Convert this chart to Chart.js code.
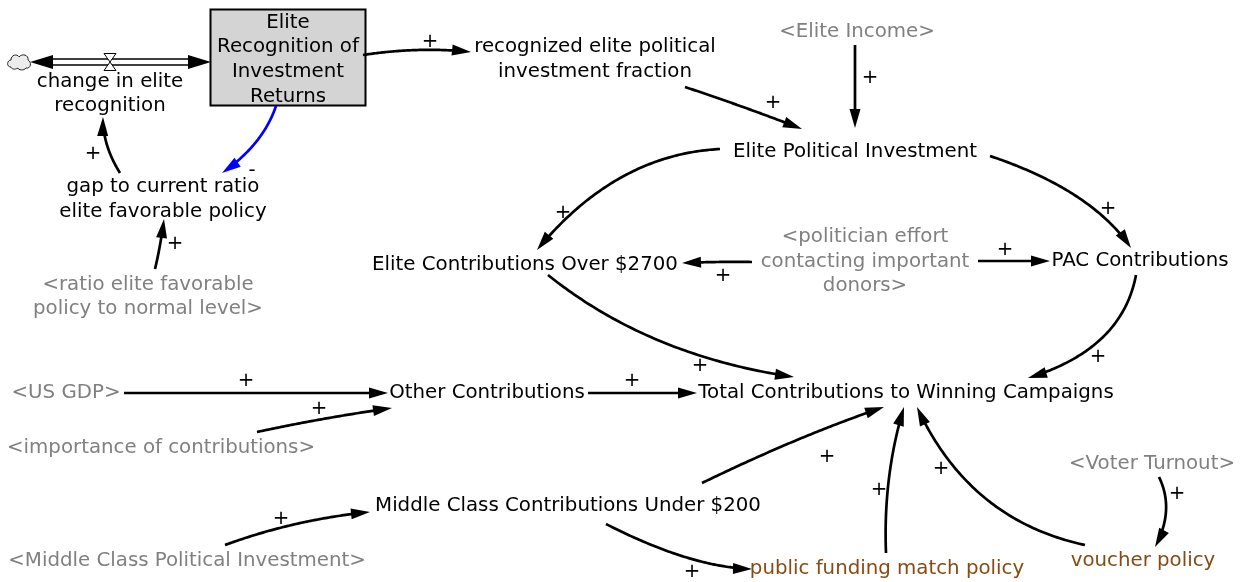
<!DOCTYPE html>
<html><head><meta charset="utf-8">
<script src="https://cdn.jsdelivr.net/npm/chart.js@4.4.1/dist/chart.umd.min.js"></script>
<style>html,body{margin:0;padding:0;background:#fff}canvas{display:block}</style>
</head><body>
<canvas id="c" width="1245" height="582"></canvas>
<script>
// ---- Nodes (diagram coordinates) ----
const nodeLabels = [
  "Elite\nRecognition of\nInvestment\nReturns",
  "change in elite\nrecognition",
  "gap to current ratio\nelite favorable policy",
  "<ratio elite favorable\npolicy to normal level>",
  "recognized elite political\ninvestment fraction",
  "<Elite Income>",
  "Elite Political Investment",
  "Elite Contributions Over $2700",
  "<politician effort\ncontacting important\ndonors>",
  "PAC Contributions",
  "<US GDP>",
  "Other Contributions",
  "Total Contributions to Winning Campaigns",
  "<importance of contributions>",
  "Middle Class Contributions Under $200",
  "<Middle Class Political Investment>",
  "public funding match policy",
  "voucher policy",
  "<Voter Turnout>"
];
const nodeX = [288, 110, 163, 148, 595, 857, 855, 525, 865, 1140, 66, 487, 906, 161, 568, 187, 887, 1143, 1152];
const nodeY = [59.5, 94, 199.5, 297, 59.5, 32, 152, 265, 261.5, 261, 393, 393, 393, 448, 506, 561, 569, 561, 464];
const nodeRole = ["stock","aux","aux","shadow","aux","shadow","aux","aux","shadow","aux","shadow","aux","aux","shadow","aux","shadow","policy","policy","shadow"];

// ---- Causal links: start, a point the curve passes through, end ----
const linkStartX = [363, 685, 855, 720, 990, 752, 978, 548, 1136, 124, 257, 588, 702, 225, 606, 886, 1085, 1159, 276, 120, 155];
const linkStartY = [55, 87, 45, 149, 156, 262, 261, 275, 275, 393, 432, 393, 483, 545, 524, 553, 545, 477, 106, 173, 269];
const linkViaX   = [418, 743, 855, 622, 1076, 717, 1014, 660, 1102, 256, 323, 642, 797, 296, 685, 889, 985, 1166, 256, 107, 160];
const linkViaY   = [50, 107, 86, 177, 196, 262, 261, 341, 338, 393, 419, 393, 440, 524, 557, 478, 498, 511, 142, 145, 245];
const linkEndX   = [471, 802, 855, 537, 1131, 682, 1050, 794, 1028, 388, 392, 697, 884, 370, 752, 904, 917, 1155, 222, 103, 164];
const linkEndY   = [52, 129, 128, 250, 248, 263, 261, 377, 378, 393, 408, 393, 407, 512, 569, 407, 407, 547, 173, 117, 219];
const linkSign   = ["+","+","+","+","+","+","+","+","+","+","+","+","+","+","+","+","+","+","-","+","+"];
const signX      = [430, 773, 870, 563, 1108, 723, 1005, 700, 1098, 246, 319, 632, 827, 281, 692, 879, 941, 1177, 252, 93, 175];
const signY      = [42, 103, 78, 213, 209, 276, 250, 366, 357, 381, 409, 381, 457, 519, 572, 490, 469, 494, 171, 154, 244];
const linkColor  = ["k","k","k","k","k","k","k","k","k","k","k","k","k","k","k","k","k","k","b","k","k"];

// ---- Flow (stock inflow/outflow pipe) ----
const flowFromX = [30], flowToX = [211], flowY = [62], valveX = [110], cloudX = [19];

const FONT = '"DejaVu Sans", Verdana, sans-serif';
const FS = 19.8;
const LH = 24.6;
const roleColor = {stock:'#000', aux:'#000', shadow:'#808080', policy:'#874a12'};

const diagram = {
  id: 'diagram',
  afterDatasetsDraw(chart) {
    const ctx = chart.ctx, xs = chart.scales.x, ys = chart.scales.y;
    const px = v => xs.getPixelForValue(v), py = v => ys.getPixelForValue(v);
    ctx.save();

    // stock box
    const bx0 = px(210.5), bx1 = px(365.5), by0 = py(9.5), by1 = py(105.5);
    ctx.fillStyle = '#d4d4d4';
    ctx.fillRect(bx0, by0, bx1 - bx0, by1 - by0);
    ctx.strokeStyle = '#000'; ctx.lineWidth = 2;
    ctx.strokeRect(bx0, by0, bx1 - bx0, by1 - by0);

    // flow pipe
    flowY.forEach((fy, i) => {
      const y = py(fy), xa = px(flowFromX[i]), xb = px(flowToX[i]);
      ctx.strokeStyle = '#000'; ctx.lineWidth = 1.3;
      ctx.beginPath();
      ctx.moveTo(xa + 20, y - 3); ctx.lineTo(xb - 20, y - 3);
      ctx.moveTo(xa + 20, y + 3); ctx.lineTo(xb - 20, y + 3);
      ctx.stroke();
      ctx.fillStyle = '#000';
      ctx.beginPath(); ctx.moveTo(xa, y); ctx.lineTo(xa + 23, y - 7); ctx.lineTo(xa + 23, y + 7); ctx.closePath(); ctx.fill();
      ctx.beginPath(); ctx.moveTo(xb, y); ctx.lineTo(xb - 23, y - 7); ctx.lineTo(xb - 23, y + 7); ctx.closePath(); ctx.fill();
      // valve
      const vx = px(valveX[i]);
      ctx.fillStyle = '#fff'; ctx.strokeStyle = '#000'; ctx.lineWidth = 1;
      ctx.beginPath(); ctx.moveTo(vx - 6, y - 8.5); ctx.lineTo(vx + 6, y - 8.5); ctx.lineTo(vx, y); ctx.closePath(); ctx.fill(); ctx.stroke();
      ctx.beginPath(); ctx.moveTo(vx - 6, y + 8.5); ctx.lineTo(vx + 6, y + 8.5); ctx.lineTo(vx, y); ctx.closePath(); ctx.fill(); ctx.stroke();
      // cloud
      const cx = px(cloudX[i]);
      ctx.fillStyle = '#ececec'; ctx.strokeStyle = '#222'; ctx.lineWidth = 1;
      ctx.beginPath();
      ctx.moveTo(cx - 8, y + 5);
      ctx.bezierCurveTo(cx - 13, y + 5, cx - 12, y - 2, cx - 8, y - 2);
      ctx.bezierCurveTo(cx - 8, y - 8, cx - 1, y - 8, cx, y - 5);
      ctx.bezierCurveTo(cx + 3, y - 9, cx + 10, y - 7, cx + 9, y - 2);
      ctx.bezierCurveTo(cx + 13, y, cx + 12, y + 7, cx + 7, y + 6);
      ctx.bezierCurveTo(cx + 5, y + 9, cx - 1, y + 8, cx - 1, y + 6);
      ctx.bezierCurveTo(cx - 4, y + 8, cx - 8, y + 7, cx - 8, y + 5);
      ctx.closePath(); ctx.fill(); ctx.stroke();
    });

    // causal links
    linkSign.forEach((s, i) => {
      const S = [px(linkStartX[i]), py(linkStartY[i])];
      const V = [px(linkViaX[i]), py(linkViaY[i])];
      const E = [px(linkEndX[i]), py(linkEndY[i])];
      const C = [2 * V[0] - (S[0] + E[0]) / 2, 2 * V[1] - (S[1] + E[1]) / 2];
      const col = linkColor[i] === 'b' ? '#0000ff' : '#000';
      const L = 19, W = 5.5;
      const pts = [];
      for (let k = 0; k <= 80; k++) {
        const t = k / 80, u = 1 - t;
        pts.push([u*u*S[0] + 2*u*t*C[0] + t*t*E[0], u*u*S[1] + 2*u*t*C[1] + t*t*E[1]]);
      }
      ctx.strokeStyle = col; ctx.lineWidth = 2.7; ctx.lineCap = 'butt'; ctx.lineJoin = 'round';
      ctx.beginPath(); ctx.moveTo(pts[0][0], pts[0][1]);
      for (let k = 1; k < pts.length; k++) {
        const d = Math.hypot(pts[k][0] - E[0], pts[k][1] - E[1]);
        if (d < L - 3) break;
        ctx.lineTo(pts[k][0], pts[k][1]);
      }
      ctx.stroke();
      let dx = E[0] - C[0], dy = E[1] - C[1];
      const n = Math.hypot(dx, dy); dx /= n; dy /= n;
      ctx.fillStyle = col;
      ctx.beginPath();
      ctx.moveTo(E[0], E[1]);
      ctx.lineTo(E[0] - dx * L - dy * W, E[1] - dy * L + dx * W);
      ctx.lineTo(E[0] - dx * L + dy * W, E[1] - dy * L - dx * W);
      ctx.closePath(); ctx.fill();
      ctx.fillStyle = '#000';
      ctx.font = FS + 'px ' + FONT; ctx.textAlign = 'center'; ctx.textBaseline = 'middle';
      ctx.fillText(s, px(signX[i]), py(signY[i]));
    });

    // node labels
    ctx.font = FS + 'px ' + FONT; ctx.textAlign = 'center'; ctx.textBaseline = 'middle';
    nodeLabels.forEach((lab, i) => {
      const lines = lab.split('\n');
      ctx.fillStyle = roleColor[nodeRole[i]];
      const x = px(nodeX[i]), y0 = py(nodeY[i]) - (lines.length - 1) * LH / 2;
      lines.forEach((ln, j) => ctx.fillText(ln, x, y0 + j * LH));
    });
    ctx.restore();
  }
};

new Chart(document.getElementById('c'), {
  type: 'scatter',
  data: { datasets: [{ data: nodeX.map((x, i) => ({x, y: nodeY[i]})), pointRadius: 0 }] },
  options: {
    responsive: false, animation: false, events: [],
    layout: { padding: 0 },
    scales: {
      x: { display: false, min: 0, max: 1245 },
      y: { display: false, min: 0, max: 582, reverse: true }
    },
    plugins: { legend: { display: false }, tooltip: { enabled: false } }
  },
  plugins: [diagram]
});
</script>
</body></html>
